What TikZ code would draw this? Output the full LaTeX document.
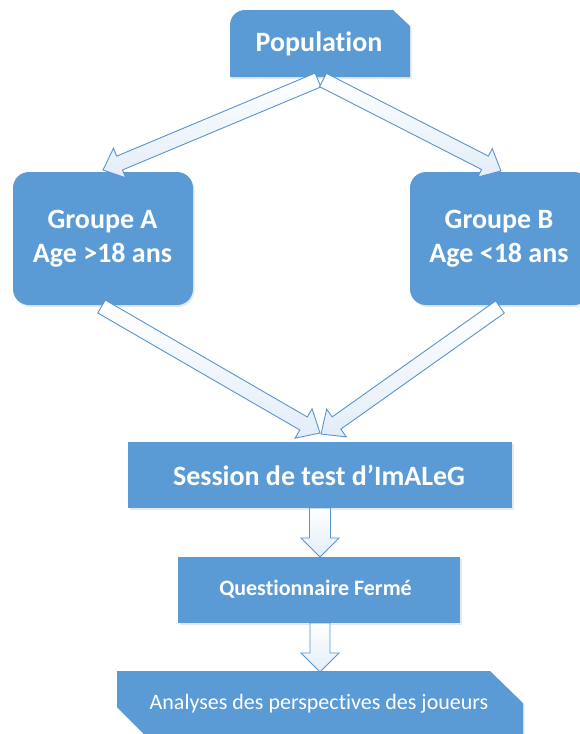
\documentclass[tikz,border=0pt]{standalone}
\usepackage{fontspec}
\setmainfont{Carlito}[Ligatures={NoCommon}]
\usetikzlibrary{calc,shadows}
\definecolor{boxblue}{HTML}{5B9BD5}
\definecolor{arrowline}{HTML}{5B93CF}
\definecolor{arrowfill}{HTML}{E3EDF8}
\tikzset{
  boxshadow/.style={drop shadow={opacity=0.18,shadow xshift=1.5pt,shadow yshift=-2pt}},
  bluebox/.style={fill=boxblue,draw=none,boxshadow},
  bigtxt/.style={text=white,font=\fontsize{28}{34}\selectfont\bfseries,align=center},
  midtxt/.style={text=white,font=\fontsize{22}{26}\selectfont\bfseries,align=center},
  plaintxt/.style={text=white,font=\fontsize{22}{26}\selectfont,align=center},
  arrowbody/.style={draw=arrowline,line width=0.9pt,line join=miter,top color=white,middle color=white!60!arrowfill,bottom color=arrowfill}
}
\newcommand\blockarr[5]{%
  \coordinate (ba-s) at ($(#2)!#5!(#1)$);
  \path[arrowbody] ($(#1)!#3!90:(#2)$) -- ($(ba-s)!#3!90:(#2)$) -- ($(ba-s)!#4!90:(#2)$) -- (#2)
     -- ($(ba-s)!#4!-90:(#2)$) -- ($(ba-s)!#3!-90:(#2)$) -- ($(#1)!#3!-90:(#2)$) -- cycle;}
\begin{document}
\begin{tikzpicture}[x=1pt,y=-1pt]
\useasboundingbox (0,0) rectangle (580,734);
\clip (0,0) rectangle (580,734);
% Population
\path[bluebox] (230,77) -- (230,25) arc[start angle=180,end angle=270,radius=15] -- (393,10) -- (410,26) -- (410,77) -- cycle;
\node[bigtxt] (pop) at (319,44) {Population};
% Groups
\node[bluebox,rounded corners=16pt,minimum width=180pt,minimum height=133pt] (ga) at (103,238.5) {};
\node[bigtxt] (gat) at (102.5,238.5) {Groupe A\\Age >18 ans};
\node[bluebox,rounded corners=16pt,minimum width=180pt,minimum height=133pt] (gb) at (500,238.5) {};
\node[bigtxt] (gbt) at (499,238.5) {Groupe B\\Age <18 ans};
% Session
\node[bluebox,minimum width=384pt,minimum height=66pt] (ses) at (320,475) {};
\node[bigtxt] (sest) at (319,475) {Session de test d’ImALeG};
% Questionnaire
\node[bluebox,minimum width=282pt,minimum height=66pt] (que) at (319,590) {};
\node[midtxt] (quet) at (315.5,589) {Questionnaire Fermé};
% Analyses
\path[bluebox] (117,671) -- (490,671) -- (523,703) -- (523,740) -- (150,740) -- (117,707) -- cycle;
\node[plaintxt] (ana) at (319,704) {Analyses des perspectives des joueurs};
% arrow endpoints
\coordinate (pa0) at (318,80);
\coordinate (pa1) at (103,170);
\coordinate (pb0) at (323,80);
\coordinate (pb1) at (501,171);
\coordinate (as0) at (101.5,306.5);
\coordinate (as1) at (320,433);
\coordinate (bs0) at (500,307);
\coordinate (bs1) at (321,434);
\coordinate (sq0) at (320,508);
\coordinate (sq1) at (320,557);
\coordinate (qa0) at (320,623);
\coordinate (qa1) at (320,672);
\blockarr{pa0}{pa1}{7.5pt}{16pt}{18pt}
\blockarr{pb0}{pb1}{7.5pt}{16pt}{18pt}
\blockarr{as0}{as1}{7.5pt}{17pt}{19pt}
\blockarr{bs0}{bs1}{7.5pt}{17pt}{19pt}
\blockarr{sq0}{sq1}{10.5pt}{19pt}{19pt}
\blockarr{qa0}{qa1}{10pt}{19pt}{19pt}
\end{tikzpicture}
\end{document}
